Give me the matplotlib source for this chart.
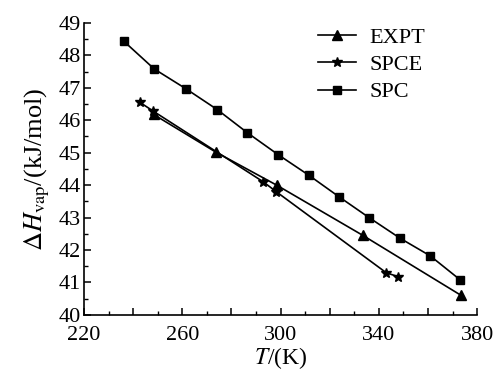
import matplotlib
matplotlib.use("Agg")
import matplotlib.pyplot as plt
from matplotlib.ticker import MultipleLocator, FuncFormatter

plt.rcParams['font.family'] = ['Liberation Serif', 'DejaVu Serif']
plt.rcParams['mathtext.fontset'] = 'stix'

# data
expt_t = [248.3, 273.6, 298.4, 333.5, 373.5]
expt_h = [46.18, 45.02, 44.00, 42.45, 40.60]

spce_t = [242.8, 248.2, 293.0, 298.2, 343.0, 347.7]
spce_h = [46.55, 46.28, 44.10, 43.80, 41.30, 41.18]

spc_t = [236.3, 248.6, 261.5, 274.2, 286.4, 299.0, 311.6, 323.8, 336.0, 348.7, 360.9, 373.1]
spc_h = [48.43, 47.58, 46.97, 46.33, 45.62, 44.94, 44.30, 43.64, 43.00, 42.36, 41.82, 41.08]

fig = plt.figure(figsize=(4.97, 3.70), dpi=100)
ax = fig.add_axes([0.169, 0.149, 0.791, 0.789])

ax.plot(expt_t, expt_h, color='black', lw=1.2, marker='^', ms=6.5, label='EXPT')
ax.plot(spce_t, spce_h, color='black', lw=1.2, marker='*', ms=7.5, label='SPCE')
ax.plot(spc_t, spc_h, color='black', lw=1.2, marker='s', ms=5.5, label='SPC')

ax.set_xlim(220, 380)
ax.set_ylim(40, 49)
ax.xaxis.set_major_locator(MultipleLocator(20))
ax.xaxis.set_minor_locator(MultipleLocator(10))
# only every second major tick carries a label
ax.xaxis.set_major_formatter(FuncFormatter(
    lambda v, pos: '%d' % round(v) if round(v - 220) % 40 == 0 else ''))
ax.yaxis.set_major_locator(MultipleLocator(1))
ax.yaxis.set_minor_locator(MultipleLocator(0.5))

for side in ['top', 'right']:
    ax.spines[side].set_visible(False)
for side in ['left', 'bottom']:
    ax.spines[side].set_linewidth(1.2)

ax.tick_params(which='major', direction='in', length=5, width=1.1, labelsize=16)
ax.tick_params(axis='x', which='major', pad=8)
ax.tick_params(axis='y', which='major', pad=2)
ax.tick_params(which='minor', direction='in', length=3, width=1.0)

ax.set_xlabel(r'$T$/(K)', fontsize=17, labelpad=0)
ax.set_ylabel(r'$\Delta H_{\mathrm{vap}}$/(kJ/mol)', fontsize=19, labelpad=5)

ax.legend(loc='upper left', bbox_to_anchor=(0.595, 0.985), frameon=False,
          borderpad=0, borderaxespad=0,
          fontsize=16, handlelength=1.7, handletextpad=0.6, labelspacing=0.3)

fig.savefig('out.png', dpi=100)
